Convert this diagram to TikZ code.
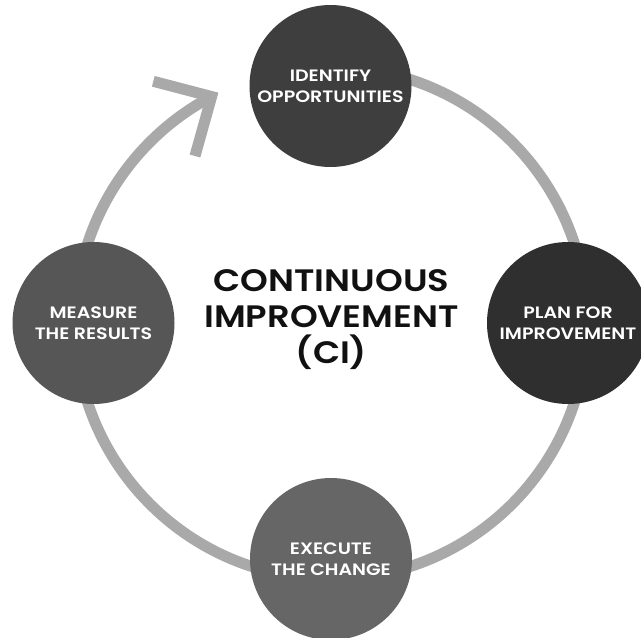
\documentclass[tikz,border=0pt]{standalone}
\usepackage{fontspec}
\setmainfont{Poppins}
\newfontfamily\circfont{Poppins SemiBold}[FakeStretch=1.15]
\newfontfamily\titlefont{Poppins SemiBold}[FakeStretch=1.14]
\definecolor{ringgray}{HTML}{A9A9A9}
\definecolor{idc}{HTML}{3E3E3E}
\definecolor{planc}{HTML}{2F2F2F}
\definecolor{execc}{HTML}{666666}
\definecolor{measc}{HTML}{565656}
\definecolor{titlec}{HTML}{111111}
\begin{document}
\begin{tikzpicture}[x=1pt,y=1pt,
  ring/.style={draw=ringgray, line width=11pt},
  stage/.style={circle, minimum size=162pt, inner sep=0pt, text=white, align=center,
    font=\circfont\fontsize{16.5}{21}\selectfont},
  maintitle/.style={align=center, text=titlec, font=\titlefont\fontsize{31}{36}\selectfont}
]
\useasboundingbox (0,0) rectangle (641,-638);
\fill[white] (0,0) rectangle (641,-638);
\coordinate (c) at (331,-323);
\coordinate (arm1) at (153.3,-81.3);
\coordinate (arm2) at (195,-156);
\draw[ring] (c) ++(85:256) arc[start angle=85, end angle=-242.2, radius=256] coordinate (tip);
\draw[ring, line join=miter] (arm1) -- (tip) -- (arm2);
\node[stage, fill=idc] (identify) at (330.5,-86) {IDENTIFY\\OPPORTUNITIES};
\node[stage, fill=planc] (plan) at (568,-323) {PLAN FOR\\IMPROVEMENT};
\node[stage, fill=measc] (measure) at (93.5,-323) {MEASURE\\THE RESULTS};
\node[stage, fill=execc] (execute) at (331,-559) {EXECUTE\\THE CHANGE};
\node[maintitle] (ci) at (331.5,-320) {CONTINUOUS\\IMPROVEMENT\\(CI)};
\end{tikzpicture}
\end{document}
